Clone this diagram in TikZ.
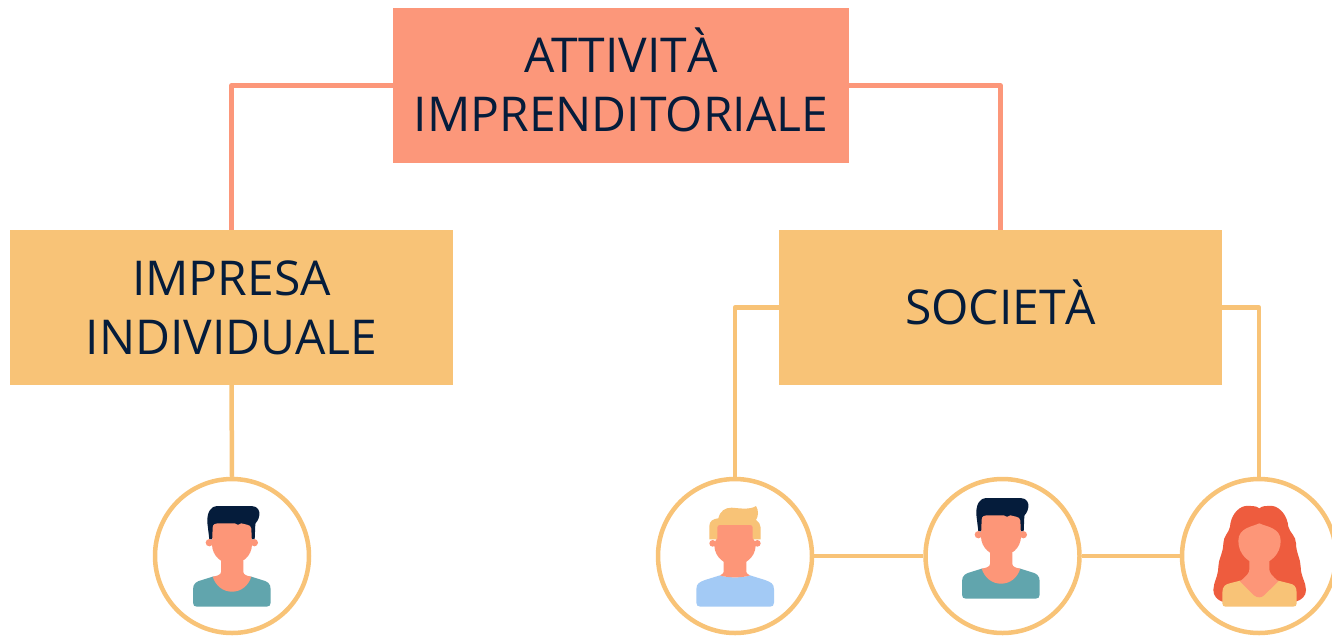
\documentclass[tikz,border=0pt]{standalone}
\usepackage{fontspec}
\setmainfont{Open Sans}
\definecolor{salmon}{HTML}{FC977A}
\definecolor{amber}{HTML}{F8C377}
\definecolor{navy}{HTML}{051C3B}
\definecolor{teal}{HTML}{61A5AD}
\definecolor{shirtblue}{HTML}{A3CAF5}
\definecolor{redhair}{HTML}{EE5C3E}
\definecolor{skin}{HTML}{FD9678}
\tikzset{
    box/.style={fill=#1, text=navy, minimum width=443, minimum height=155,
        inner sep=0pt, align=center, font=\fontsize{48}{59}\selectfont},
    person/.style={circle, draw=amber, line width=4.5pt, fill=white,
        minimum size=154, inner sep=0pt},
    link/.style={draw=#1, line width=4.5pt, line join=round},
    % dark haired man
    pics/darkman/.style={code={
        \begin{scope}[scale=1/3]
        \fill[navy] (-68,-50) -- (-74,-100) .. controls (-76,-135) and (-60,-150) .. (-45,-150)
            -- (58,-150) .. controls (78,-150) and (84,-135) .. (82,-122)
            .. controls (80,-105) and (70,-100) .. (70,-96) -- (68,-50) -- cycle;
        \fill[teal] (-117,100) .. controls (-117,82) and (-106,76) .. (-90,72) -- (-58,62)
            -- (58,62) -- (90,72) .. controls (106,76) and (116,82) .. (116,100)
            -- (116,140) .. controls (116,148) and (112,152) .. (104,152)
            -- (-105,152) .. controls (-113,152) and (-117,148) .. (-117,140) -- cycle;
        \fill[skin] (-33,15) -- (-33,48) .. controls (-33,56) and (-45,60) .. (-58,62)
            .. controls (-48,92) and (-25,107) .. (0,107)
            .. controls (25,107) and (48,92) .. (58,62)
            .. controls (45,60) and (34,56) .. (34,48) -- (34,15) -- cycle;
        \fill[skin] (-58,-85) .. controls (-58,-95) and (-50,-98) .. (-40,-98) -- (8,-98)
            .. controls (14,-92) and (22,-92) .. (28,-98) -- (45,-94)
            .. controls (52,-92) and (58,-90) .. (58,-82) -- (60,-35)
            .. controls (60,0) and (30,24) .. (0,24)
            .. controls (-30,24) and (-60,0) .. (-60,-35) -- cycle;
        \fill[skin] (-68,-40) circle (11);
        \fill[skin] (67,-40) circle (11);
        \end{scope}
    }},
    % blond man
    pics/blondman/.style={code={
        \begin{scope}[scale=1/3]
        \fill[amber] (-77,-50) -- (-77,-90) .. controls (-77,-105) and (-65,-112) .. (-50,-113)
            .. controls (-45,-135) and (-30,-145) .. (-10,-145)
            .. controls (15,-143) and (45,-138) .. (63,-150)
            .. controls (72,-135) and (70,-120) .. (63,-108)
            .. controls (72,-100) and (77,-95) .. (77,-85) -- (77,-50) -- cycle;
        \fill[shirtblue] (-116,100) .. controls (-116,82) and (-106,78) .. (-90,72) -- (-45,58)
            .. controls (-25,66) and (25,66) .. (45,58) -- (90,72)
            .. controls (106,78) and (117,82) .. (117,100)
            -- (117,140) .. controls (117,148) and (113,152) .. (105,152)
            -- (-104,152) .. controls (-112,152) and (-116,148) .. (-116,140) -- cycle;
        \fill[skin] (-34,15) -- (-34,48) .. controls (-34,52) and (-40,56) .. (-45,58)
            .. controls (-25,66) and (25,66) .. (45,58)
            .. controls (40,56) and (34,52) .. (34,48) -- (34,15) -- cycle;
        \fill[skin] (-53,-85) .. controls (-53,-90) and (-50,-93) .. (-45,-93) -- (45,-93)
            .. controls (50,-93) and (53,-90) .. (53,-85) -- (53,-52)
            .. controls (58,-50) and (62,-40) .. (62,-30)
            .. controls (60,5) and (30,27) .. (0,27)
            .. controls (-30,27) and (-60,5) .. (-62,-30)
            .. controls (-62,-40) and (-58,-50) .. (-53,-52) -- cycle;
        \fill[skin] (-67,-38) circle (10);
        \fill[skin] (67,-38) circle (10);
        \end{scope}
    }},
    % woman
    pics/woman/.style={code={
        \begin{scope}[scale=1/3]
        \fill[redhair] (1,-143) .. controls (-10,-152) and (-25,-150) .. (-42,-150)
            .. controls (-65,-145) and (-85,-120) .. (-87,-88)
            .. controls (-90,-70) and (-107,-60) .. (-107,-38)
            .. controls (-107,-10) and (-122,10) .. (-122,32)
            .. controls (-122,60) and (-137,80) .. (-137,102)
            .. controls (-137,120) and (-125,132) .. (-110,137)
            -- (110,137) .. controls (128,132) and (141,120) .. (141,102)
            .. controls (141,80) and (125,60) .. (125,32)
            .. controls (125,10) and (111,-10) .. (111,-38)
            .. controls (111,-60) and (92,-70) .. (88,-88)
            .. controls (85,-120) and (65,-145) .. (42,-150)
            .. controls (25,-150) and (10,-152) .. (1,-143) -- cycle;
        \fill[amber] (-110,110) .. controls (-110,90) and (-100,85) .. (-88,82) -- (-57,74)
            -- (58,74) -- (90,82) .. controls (104,85) and (113,90) .. (113,110)
            -- (113,142) .. controls (113,149) and (109,152) .. (102,152)
            -- (-100,152) .. controls (-106,152) and (-110,149) .. (-110,142) -- cycle;
        \fill[skin] (-29,15) -- (-29,40) .. controls (-29,50) and (-35,58) .. (-57,76)
            -- (-15,118) .. controls (-5,126) and (7,126) .. (15,118) -- (58,76)
            .. controls (38,58) and (31,50) .. (31,40) -- (31,15) -- cycle;
        \fill[skin] (1,-98) .. controls (-20,-88) and (-62,-85) .. (-62,-45)
            .. controls (-62,-5) and (-30,24) .. (1,24)
            .. controls (32,24) and (65,-5) .. (65,-45)
            .. controls (65,-85) and (22,-88) .. (1,-98) -- cycle;
        \end{scope}
    }}
}
\begin{document}
\begin{tikzpicture}[x=1pt, y=-1pt]
    \useasboundingbox (0,0) rectangle (1332,635);

    % Boxes
    \node[box=salmon, minimum width=456] (attivita) at (621,85.5) {ATTIVIT\smash{À}\\IMPRENDITORIALE};
    \node[box=amber] (impresa) at (231.5,307.5) {IMPRESA\\INDIVIDUALE};
    \node[box=amber] (societa) at (1000.5,307.5) {SOCIET\smash{À}};

    % Circles
    \node[person] (titolare) at (232,556) {};
    \node[person] (socioa) at (735,556) {};
    \node[person] (sociob) at (1002.5,556) {};
    \node[person] (socioc) at (1259,556) {};

    % Connectors
    \draw[link=salmon] (attivita.west) -| (impresa.north);
    \draw[link=salmon] (attivita.east) -| (societa.north);
    \draw[link=amber] (impresa.south) -- (titolare.north);
    \draw[link=amber] (societa.west) -| (socioa.north);
    \draw[link=amber] (societa.east) -| (socioc.north);
    \draw[link=amber] (socioa) -- (sociob);
    \draw[link=amber] (sociob) -- (socioc);

    % People
    \pic at (titolare) {darkman};
    \pic at (socioa) {blondman};
    \pic at ([shift={(-1.5,-8)}]sociob) {darkman};
    \pic at (socioc) {woman};
\end{tikzpicture}
\end{document}
